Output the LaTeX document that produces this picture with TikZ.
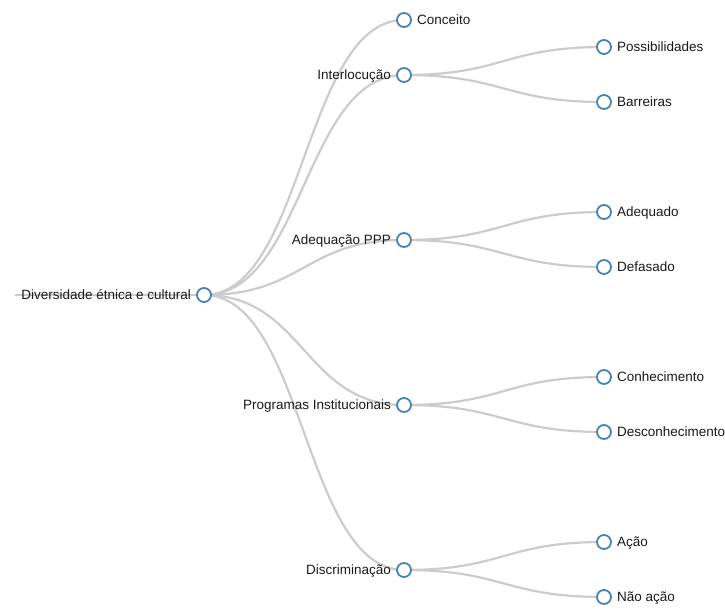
\documentclass[tikz,border=0pt]{standalone}
\usepackage{fontspec}
\setmainfont{Liberation Sans}
\usetikzlibrary{positioning,backgrounds}

\definecolor{steel}{HTML}{4682B4}
\definecolor{linkgray}{HTML}{CCCCCC}

\tikzset{
    dot/.style={circle, draw=steel, fill=white, line width=1.8pt, minimum size=14pt, inner sep=0pt},
    lbl/.style={font=\fontsize{13.5}{16}\selectfont, text=black!90, inner sep=0pt, text height=12.5pt, text depth=3pt},
    link/.style={draw=linkgray, line width=2.2pt}
}

\begin{document}
\begin{tikzpicture}[x=1pt, y=-1pt]
    \useasboundingbox (0,0) rectangle (725,610);

    % Root
    \node[dot] (root) at (204,295) {};
    \node[lbl, left=5pt of root] (root-l) {Diversidade étnica e cultural};
    \coordinate (stub) at (15,295);
    \begin{pgfonlayer}{background}
        \draw[link] (stub) -- (root.center);
    \end{pgfonlayer}

    % First level
    \foreach \name/\y/\side/\lab in {
        conceito/20/right/Conceito,
        interlocucao/75/left/Interlocução,
        adequacao/240/left/Adequação PPP,
        programas/405/left/Programas Institucionais,
        discriminacao/570/left/Discriminação
    } {
        \node[dot] (\name) at (404,\y) {};
        \node[lbl, \side=5pt of \name] (\name-l) {\lab};
        \begin{pgfonlayer}{background}
            \draw[link] (root.center) .. controls +(100,0) and +(-100,0) .. (\name.center);
        \end{pgfonlayer}
    }

    % Second level
    \foreach \name/\y/\parent/\lab in {
        possib/47/interlocucao/Possibilidades,
        barreiras/102/interlocucao/Barreiras,
        adequado/212/adequacao/Adequado,
        defasado/267/adequacao/Defasado,
        conhec/377/programas/Conhecimento,
        desconhec/432/programas/Desconhecimento,
        acao/542/discriminacao/Ação,
        naoacao/597/discriminacao/Não ação
    } {
        \node[dot] (\name) at (604,\y) {};
        \node[lbl, right=5pt of \name] (\name-l) {\lab};
        \begin{pgfonlayer}{background}
            \draw[link] (\parent.center) .. controls +(100,0) and +(-100,0) .. (\name.center);
        \end{pgfonlayer}
    }
\end{tikzpicture}
\end{document}
